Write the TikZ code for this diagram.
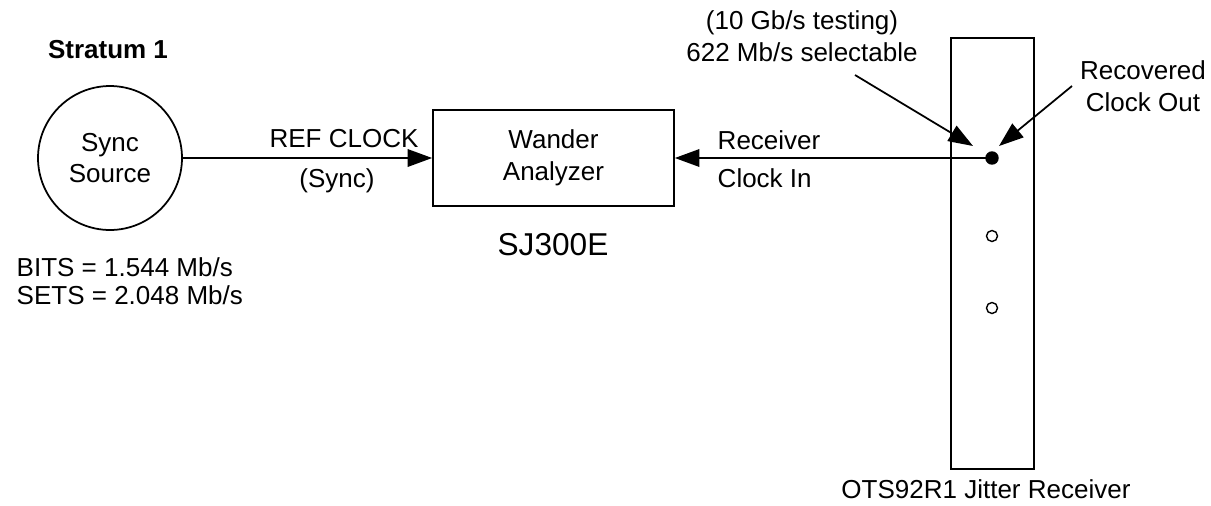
\documentclass[tikz,border=0pt]{standalone}
\usepackage{fontspec}
\setmainfont{Liberation Sans}
\usetikzlibrary{arrows.meta,positioning}

\begin{document}
\begin{tikzpicture}[x=0.02cm, y=-0.02cm, line width=1pt,
    font=\fontsize{14.8pt}{18pt}\selectfont,
    arr/.style={-{Triangle[length=14pt,width=10pt]}},
    port/.style={circle, draw=black, line width=0.8pt, inner sep=0pt}]
  \useasboundingbox (0,0) rectangle (1211,505);

  \node[font=\fontsize{14.8pt}{18pt}\selectfont\bfseries](stratum) at (108,50){Stratum 1};
  \node[circle, draw=black, minimum size=2.88cm, align=center](sync) at (110,158){Sync\\Source};
  \node[anchor=west, align=left, font=\fontsize{14.8pt}{16pt}\selectfont](bits) at (10,281){BITS = 1.544 Mb/s\\SETS = 2.048 Mb/s};

  \node[draw=black, minimum width=4.82cm, minimum height=1.92cm, align=center](wander) at (553.5,158){Wander\\Analyzer};
  \node[font=\fontsize{18pt}{20pt}\selectfont](sj) at (553,245){SJ300E};

  \node[draw=black, minimum width=1.66cm, minimum height=8.62cm](jitter) at (992.5,253.5){};
  \node(jitterlbl) at (986,489){OTS92R1 Jitter Receiver};
  \node[port, fill=black, minimum size=0.24cm](out) at (992,158){};
  \node[port, minimum size=0.22cm](p2) at (992,236){};
  \node[port, minimum size=0.22cm](p3) at (992,308){};

  \node(refclk) at (344,139){REF CLOCK};
  \node(sync2) at (337,181){(Sync)};
  \node[anchor=west](recv) at (711,140){Receiver};
  \node[anchor=west](clkin) at (711,178){Clock In};

  \node[align=center](rate) at (802,36){(10 Gb/s testing)\\622 Mb/s selectable};
  \node[align=center](recovered) at (1143,86){Recovered\\Clock Out};
  \coordinate(ratefrom) at (855,75);
  \coordinate(ratetip) at (973,146);
  \coordinate(recfrom) at (1072,86);
  \coordinate(rectip) at (999,146);

  \path[arr]
  (sync) edge (wander)
  (out.center) edge (wander)
  (ratefrom) edge (ratetip)
  (recfrom) edge (rectip);
\end{tikzpicture}
\end{document}
